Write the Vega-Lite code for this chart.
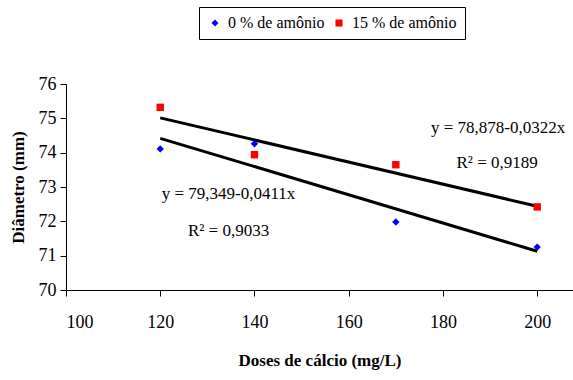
{
  "$schema": "https://vega.github.io/schema/vega-lite/v6.json",
  "width": 507,
  "height": 206,
  "autosize": {"type": "none"},
  "padding": {"left": 66, "top": 84, "right": 0, "bottom": 90},
  "background": "white",
  "config": {
    "view": {"stroke": null},
    "font": "Liberation Serif",
    "axis": {"grid": false, "domainColor": "black", "tickColor": "black", "labelColor": "black", "titleColor": "black", "labelFont": "Liberation Serif", "titleFont": "Liberation Serif", "labelFontSize": 18, "titleFontSize": 17, "titleFontWeight": "bold", "tickSize": 6, "domainWidth": 1, "labelOverlap": false}
  },
  "datasets": {
    "pts": [
      {"dose": 120, "d": 74.11, "g": "0 % de amônio"},
      {"dose": 140, "d": 74.26, "g": "0 % de amônio"},
      {"dose": 170, "d": 71.98, "g": "0 % de amônio"},
      {"dose": 200, "d": 71.25, "g": "0 % de amônio"},
      {"dose": 120, "d": 75.32, "g": "15 % de amônio"},
      {"dose": 140, "d": 73.94, "g": "15 % de amônio"},
      {"dose": 170, "d": 73.65, "g": "15 % de amônio"},
      {"dose": 200, "d": 72.42, "g": "15 % de amônio"}
    ],
    "fit": [
      {"dose": 120, "d": 74.417, "g": "a"},
      {"dose": 200, "d": 71.129, "g": "a"},
      {"dose": 120, "d": 75.014, "g": "b"},
      {"dose": 200, "d": 72.438, "g": "b"}
    ],
    "lab": [
      {"dose": 191.7, "d": 74.72, "t": "y = 78,878-0,0322x"},
      {"dose": 191.5, "d": 73.7, "t": "R² = 0,9189"},
      {"dose": 134.5, "d": 72.8, "t": "y = 79,349-0,0411x"},
      {"dose": 134.5, "d": 71.72, "t": "R² = 0,9033"}
    ]
  },
  "encoding": {
    "x": {"field": "dose", "type": "quantitative", "scale": {"domain": [100, 207.6], "nice": false}, "axis": {"values": [100, 120, 140, 160, 180, 200], "labelFont": "Liberation Serif", "title": "Doses de cálcio (mg/L)", "labelPadding": 17, "titlePadding": 21}},
    "y": {"field": "d", "type": "quantitative", "scale": {"domain": [70, 76], "nice": false, "zero": false}, "axis": {"values": [70, 71, 72, 73, 74, 75, 76], "labelFont": "Liberation Serif", "tickCount": 7, "labelOverlap": false, "title": "Diâmetro (mm)", "labelPadding": 4, "titlePadding": 11}}
  },
  "layer": [
    {
      "data": {"name": "fit"},
      "mark": {"type": "line", "color": "black", "strokeWidth": 3},
      "encoding": {
        "detail": {"field": "g"}
      }
    },
    {
      "data": {"name": "pts"},
      "mark": {"type": "point", "filled": true, "opacity": 1, "size": 55},
      "encoding": {
        "color": {"field": "g", "type": "nominal", "scale": {"domain": ["0 % de amônio", "15 % de amônio"], "range": ["#0000ff", "#ff0000"]}, "legend": {"title": null, "orient": "none", "direction": "horizontal", "legendX": 133, "legendY": -77, "labelFont": "Liberation Serif", "labelFontSize": 16, "labelColor": "black", "strokeColor": "black", "padding": 8, "symbolSize": 50, "columnPadding": 6, "labelOffset": 5}},
        "shape": {"field": "g", "type": "nominal", "scale": {"domain": ["0 % de amônio", "15 % de amônio"], "range": ["diamond", "square"]}}
      }
    },
    {
      "data": {"name": "lab"},
      "mark": {"type": "text", "font": "Liberation Serif", "fontSize": 17, "color": "black"},
      "encoding": {
        "text": {"field": "t"}
      }
    }
  ]
}
